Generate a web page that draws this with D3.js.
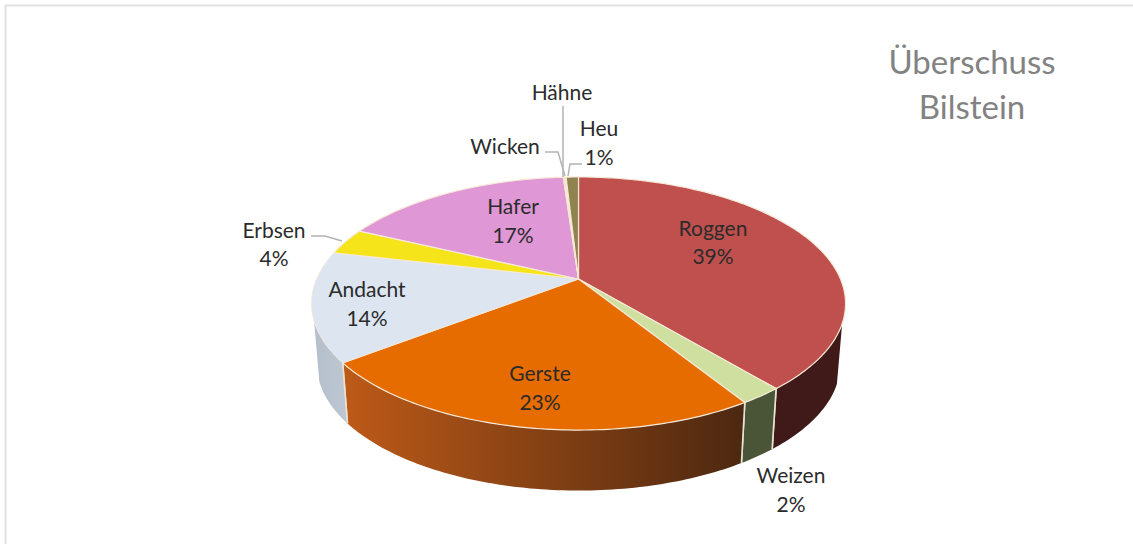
<!DOCTYPE html>
<html><head><meta charset="utf-8">
<script src="https://cdn.jsdelivr.net/npm/d3@7"></script>
<style>html,body{margin:0;padding:0;background:#fff}svg{display:block}text{font-family:Lato,"Open Sans",sans-serif}</style>
</head><body><div id="c"></div>
<script>
const categories = ["Roggen","Weizen","Gerste","Andacht","Erbsen","Hafer","Wicken","Hähne","Heu"];
const values = [38.9,2.2,23.5,14.0,3.4,16.9,0.1,0.1,0.9];
const percentLabels = ["39%","2%","23%","14%","4%","17%","","","1%"];
const titleLines = ["Überschuss","Bilstein"];
const topColors = ["#bf504e","#cfdf9f","#e66c00","#dce5f0","#f5e41a","#e097d6","#b9b27a","#b9b27a","#8f8450"];
const sideColors = [["#3f1a18","#3f1a18"],["#4a5538","#4a5538"],["#bd5a18","#4c2811"],["#b5bfcb","#bcc6d2"],["#9a8f10","#9a8f10"],["#8a5a84","#8a5a84"],["#555","#555"],["#555","#555"],["#555","#555"]];

const W=1133,H=544;
// layout of the tilted disc (perspective projection of a unit circle)
const cx=578.5, cy=279, ax=262, by=121.8, k=0.1937, depth=60.5, shrink=0.98;
const project=(a)=>{const u=Math.sin(a),v=Math.cos(a),d=1+k*v;return [cx+ax*u/d,cy-by*v/d];};
const projectLow=(a)=>{const p=project(a);return [cx+(p[0]-cx)*shrink,p[1]+depth];};
const line=d3.line();
const rad=d=>d*Math.PI/180;
const visFrom=rad(110),visTo=rad(251);
const arcSamples=(a0,a1)=>{const n=Math.max(2,Math.ceil((a1-a0)/rad(1)));return d3.range(n+1).map(i=>a0+(a1-a0)*i/n);};

const svg=d3.select("#c").append("svg").attr("width",W).attr("height",H);
const defs=svg.append("defs");

// frame
svg.append("path").attr("d",line([[5.5,H],[5.5,5.5],[W,5.5]])).attr("fill","none").attr("stroke","#e2e2e2").attr("stroke-width",2);

const pie=d3.pie().sort(null).value(d=>d)(values);

// sides
const sides=svg.append("g");
pie.forEach((s,i)=>{
  const a0=Math.max(s.startAngle,visFrom),a1=Math.min(s.endAngle,visTo);
  if(a1<=a0) return;
  const xs=arcSamples(a0,a1);
  const pts=xs.map(project).concat(xs.slice().reverse().map(projectLow));
  const gid="side"+i, x0=project(a0)[0], x1=project(a1)[0];
  const g=defs.append("linearGradient").attr("id",gid).attr("gradientUnits","userSpaceOnUse")
    .attr("x1",x1).attr("x2",x0).attr("y1",0).attr("y2",0);
  g.append("stop").attr("offset",0).attr("stop-color",sideColors[i][0]);
  g.append("stop").attr("offset",1).attr("stop-color",sideColors[i][1]);
  sides.append("path").attr("d",line(pts)+"Z").attr("fill",`url(#${gid})`);
  // pale vertical seams between side panels
  [s.startAngle,s.endAngle].filter(a=>a>visFrom&&a<visTo).forEach(a=>{
    sides.append("path").attr("d",line([project(a),projectLow(a)])).attr("stroke","#e9e2cf").attr("stroke-width",1.6).attr("fill","none");
  });
});
// top faces
const tops=svg.append("g");
pie.forEach((s,i)=>{
  const pts=[[cx,cy]].concat(arcSamples(s.startAngle,s.endAngle).map(project));
  tops.append("path").attr("d",line(pts)+"Z").attr("fill",topColors[i])
    .attr("stroke","#f6e9d6").attr("stroke-width",i===3?0.8:1.2).attr("stroke-linejoin","round");
});

// leader lines
const leaders=[
  [[563,106],[563,177]],
  [[545,152],[558,152],[565,176]],
  [[582,164],[570,164],[568,176]],
  [[311,236],[325,236],[342,241]]
];
svg.append("g").selectAll("path").data(leaders).join("path").attr("d",d=>line(d))
  .attr("fill","none").attr("stroke","#b3b3b3").attr("stroke-width",1.5);

// data labels
const labelPos={Roggen:[713,229,257],Weizen:[791,476,505],Gerste:[540,374,403],Andacht:[367,290,319],Erbsen:[274,231,259],Hafer:[513,207,236],Wicken:[505,147,null],"Hähne":[562,93,null],Heu:[599,129,158]};
const lab=svg.append("g").attr("fill","#2b2b2b").attr("font-size",21).attr("text-anchor","middle");
categories.forEach((c,i)=>{
  const p=labelPos[c];
  lab.append("text").attr("x",p[0]).attr("y",p[1]).attr("dy","0.35em").text(c);
  if(p[2]!==null&&percentLabels[i]) lab.append("text").attr("x",p[0]).attr("y",p[2]).attr("dy","0.35em").text(percentLabels[i]);
});

// title
svg.append("g").attr("fill","#828282").attr("font-size",33).attr("text-anchor","middle")
  .selectAll("text").data(titleLines).join("text")
  .attr("x",972).attr("y",(d,i)=>[62,107][i]).attr("dy","0.35em").text(d=>d);
</script></body></html>
